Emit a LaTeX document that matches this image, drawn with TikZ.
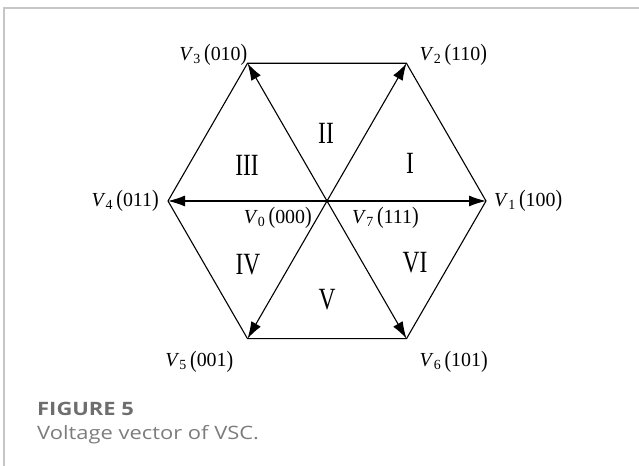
\documentclass[tikz,border=0pt]{standalone}
\usepackage{fontspec}
\setmainfont{Liberation Serif}
\newfontfamily\capfont[FakeStretch=1.19]{Open Sans}
\usepackage{tikz}
\usetikzlibrary{arrows.meta, positioning, calc}
\definecolor{framegrey}{HTML}{C6C6C6}
\definecolor{capgrey}{HTML}{6E6E6E}
\definecolor{textgrey}{HTML}{7C7C7C}
\newcommand{\tallpar}[1]{\raisebox{-0.5pt}{\scalebox{1}[1.18]{#1}}}
\newcommand{\vlab}[2]{\textit{V}\textsubscript{#1}\,\tallpar{(}#2\tallpar{)}}
\newcommand{\rnum}[1]{\scalebox{0.76}[1]{#1}}

\begin{document}
\begin{tikzpicture}[x=1bp, y=1bp,
  vec/.style={-{Latex[length=17bp, width=11bp]}, line width=1.1bp},
  hexedge/.style={line width=1.1bp, line join=miter},
  vlabel/.style={inner sep=0pt, font=\fontsize{20}{20}\selectfont},
  sector/.style={inner sep=0pt, font=\fontsize{31}{31}\selectfont},
  figtitle/.style={inner sep=0pt, anchor=base west, text=capgrey,
    font=\capfont\bfseries\fontsize{18.5}{19}\selectfont},
  figtext/.style={inner sep=0pt, anchor=base west, text=textgrey,
    font=\capfont\fontsize{18.5}{19}\selectfont}]
  \useasboundingbox (0,0) rectangle (639,466);
  \draw[framegrey, line width=1.5bp] (4,0) -- (4,458) -- (639,458);

  % hexagon corners
  \coordinate (o) at (327,265);
  \coordinate (v1) at ($(o)+(0:159)$);
  \coordinate (v2) at ($(o)+(60:159)$);
  \coordinate (v3) at ($(o)+(120:159)$);
  \coordinate (v4) at ($(o)+(180:159)$);
  \coordinate (v5) at ($(o)+(240:159)$);
  \coordinate (v6) at ($(o)+(300:159)$);

  \draw[hexedge] (v1) -- (v2) -- (v3) -- (v4) -- (v5) -- (v6) -- cycle;
  \draw[vec] (o) -- (v1);
  \draw[vec] (o) -- (v2);
  \draw[vec] (o) -- (v3);
  \draw[vec] (o) -- (v4);
  \draw[vec] (o) -- (v5);
  \draw[vec] (o) -- (v6);

  % vector labels
  \node[vlabel, anchor=west] (l1) at ($(v1)+(8,0)$) {\vlab{1}{100}};
  \node[vlabel, anchor=west] (l2) at ($(v2)+(13,8)$) {\vlab{2}{110}};
  \node[vlabel, anchor=east] (l3) at ($(v3)+(0,8)$) {\vlab{3}{010}};
  \node[vlabel, anchor=east] (l4) at ($(v4)+(-9,0)$) {\vlab{4}{011}};
  \node[vlabel, anchor=east] (l5) at ($(v5)+(-14,-23)$) {\vlab{5}{001}};
  \node[vlabel, anchor=west] (l6) at ($(v6)+(13,-23)$) {\vlab{6}{101}};
  \node[vlabel, anchor=east] (l0) at ($(o)+(-15,-17)$) {\vlab{0}{000}};
  \node[vlabel, anchor=west] (l7) at ($(o)+(25,-17)$) {\vlab{7}{111}};

  % sectors
  \node[sector] (s1) at (410,303) {\rnum{I}};
  \node[sector] (s2) at (326,333) {\rnum{II}};
  \node[sector] (s3) at (247,301) {\rnum{III}};
  \node[sector] (s4) at (248,201) {\rnum{IV}};
  \node[sector] (s5) at (327,166) {\rnum{V}};
  \node[sector] (s6) at (415,203) {\rnum{VI}};

  \node[figtitle] (fig) at (37,50) {FIGURE 5};
  \node[figtext] (cap) at (37,26) {Voltage vector of VSC.};
\end{tikzpicture}
\end{document}
